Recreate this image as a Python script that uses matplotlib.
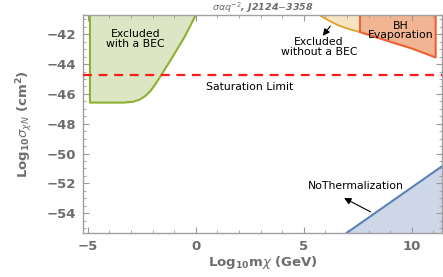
import matplotlib
matplotlib.use('Agg')
import matplotlib.pyplot as plt
from matplotlib.ticker import MultipleLocator

# Excluded with a BEC (green)
bec_x = [-4.9, -4.9, -3.3, -2.9, -2.6, -2.35, -2.1, -1.85, -1.6, -1.07, -0.53, 0.0]
bec_y = [-40.7, -46.58, -46.58, -46.52, -46.38, -46.15, -45.8, -45.3, -44.73, -43.5, -42.2, -40.7]

# Excluded without a BEC (light orange)
nobec_x = [5.7, 6.15, 6.6, 7.1, 7.6]
nobec_y = [-40.7, -41.07, -41.4, -41.65, -41.85]

# BH evaporation (orange-red)
bh_x = [7.6, 9.0, 10.0, 11.1]
bh_y = [-41.85, -42.5, -42.95, -43.55]

# No thermalization (blue)
noth_x = [6.98, 11.4]
noth_y = [-55.33, -50.85]

saturation = -44.75

xmin, xmax = -5.23, 11.4
ymin, ymax = -55.33, -40.7

gray = '#6d6d6d'
fig = plt.figure(figsize=(4.43, 2.77), dpi=100)
ax = fig.add_axes([0.187, 0.159, 0.811, 0.787])

# green region
ax.fill(bec_x, bec_y, color='#dce6c4', zorder=1)
ax.plot(bec_x, bec_y, color='#8fb032', lw=1.5, zorder=2)

# light orange region
ax.fill(nobec_x + [nobec_x[-1]], nobec_y + [ymax], color='#f8e4c2', zorder=1)
ax.plot(nobec_x, nobec_y, color='#e19c24', lw=1.2, zorder=2)

# BH region
ax.fill(bh_x + [bh_x[-1], bh_x[0]], bh_y + [ymax, ymax], color='#f2b593', zorder=1)
ax.plot([bh_x[0]] + bh_x + [bh_x[-1]], [ymax] + bh_y + [ymax], color='#eb6235', lw=1.5, zorder=2)

# no thermalization
ax.fill(noth_x + [noth_x[-1]], noth_y + [ymin], color='#cdd7e8', zorder=1)
ax.plot(noth_x, noth_y, color='#5e81b5', lw=1.5, zorder=2)

# saturation limit
ax.axhline(saturation, color='#ff1a1a', lw=1.6, ls=(0, (4, 3)), zorder=3)

tfont = dict(fontsize=7.8, family='DejaVu Sans', color='black', ha='center', va='center')
ax.text(-2.8, -42.3, 'Excluded\nwith a BEC', linespacing=0.95, **tfont)
ax.text(5.7, -42.85, 'Excluded\nwithout a BEC', linespacing=0.95, **tfont)
ax.text(9.5, -41.75, 'BH\nEvaporation', linespacing=0.95, **tfont)
ax.text(2.5, -45.55, 'Saturation Limit', **tfont)
ax.text(7.4, -52.2, 'NoThermalization', **tfont)

arrow = dict(arrowstyle='-|>', color='black', lw=0.8, mutation_scale=10)
ax.annotate('', xy=(5.8, -42.25), xytext=(6.3, -41.3), arrowprops=arrow, zorder=4)
ax.annotate('', xy=(6.75, -52.9), xytext=(8.2, -54.0), arrowprops=arrow, zorder=4)

ax.set_xlim(xmin, xmax)
ax.set_ylim(ymin, ymax)
ax.set_xticks([-5, 0, 5, 10])
ax.set_yticks([-42, -44, -46, -48, -50, -52, -54])
ax.xaxis.set_minor_locator(MultipleLocator(1))
ax.yaxis.set_minor_locator(MultipleLocator(0.5))
ax.tick_params(which='both', direction='in', top=True, right=True, color='#999999')
ax.tick_params(which='major', length=4, width=0.8, labelsize=9.5, labelcolor=gray, pad=5)
ax.tick_params(which='minor', length=2, width=0.6)
for lab in ax.get_xticklabels() + ax.get_yticklabels():
    lab.set_fontweight('bold')
for sp in ax.spines.values():
    sp.set_color('#a0a0a0')
    sp.set_linewidth(1.0)

ax.set_xlabel(r'Log$_{\mathbf{10}}$m$\chi$ (GeV)', fontsize=9.5, fontweight='bold', color=gray, labelpad=1)
ax.set_ylabel(r'Log$_{\mathbf{10}}\sigma_{\chi N}$ (cm$^{\mathbf{2}}$)', fontsize=9.5, fontweight='bold', color=gray, labelpad=8)
ax.set_title(r'$\sigma\alpha q^{-2}$, J2124$-$3358', fontsize=6.8, fontweight='bold', style='italic', color=gray, pad=1)

fig.savefig('out.png', dpi=100)
